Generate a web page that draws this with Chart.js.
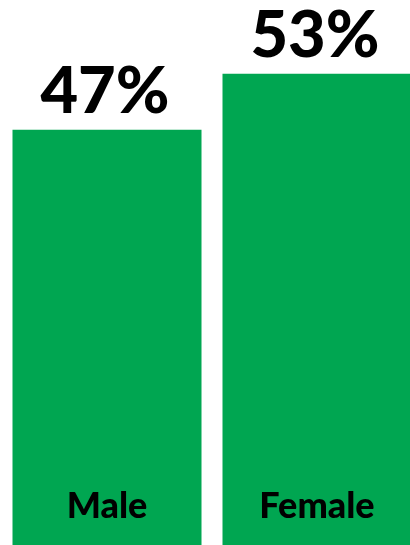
<!DOCTYPE html>
<html>
<head>
<meta charset="utf-8">
<script src="https://cdn.jsdelivr.net/npm/chart.js@4/dist/chart.umd.min.js"></script>
<style>
  html, body { margin: 0; padding: 0; background: #ffffff; overflow: hidden; }
  #wrap { position: relative; width: 410px; height: 545px; overflow: hidden; }
  #box { position: absolute; left: 0; top: 0; width: 422px; height: 568px; }
</style>
</head>
<body>
<div id="wrap"><div id="box"><canvas id="c"></canvas></div></div>
<script>
const categories = ["Male", "Female"];
const values = [47, 53];
const valueLabels = ["47%", "53%"];

const labelPlugin = {
  id: 'barLabels',
  afterDatasetsDraw(chart) {
    const ctx = chart.ctx;
    const meta = chart.getDatasetMeta(0);
    ctx.save();
    ctx.fillStyle = '#000000';
    ctx.textAlign = 'center';
    ctx.textBaseline = 'alphabetic';
    meta.data.forEach((bar, i) => {
      ctx.font = '900 65px Lato';
      ctx.fillText(valueLabels[i], bar.x - 2, bar.y - 17);
      ctx.font = '900 36px Lato';
      ctx.fillText(categories[i], bar.x, 518);
    });
    ctx.restore();
  }
};

new Chart(document.getElementById('c'), {
  type: 'bar',
  data: {
    labels: categories,
    datasets: [{
      data: values,
      backgroundColor: '#00A651',
      borderWidth: 0,
      categoryPercentage: 1.0,
      barPercentage: 0.9
    }]
  },
  options: {
    responsive: true,
    maintainAspectRatio: false,
    animation: false,
    layout: { padding: { left: 2, right: 0, top: 0, bottom: 0 } },
    plugins: { legend: { display: false }, tooltip: { enabled: false } },
    scales: {
      x: { display: false, offset: true },
      y: { display: false, min: 0, max: 60.9 }
    }
  },
  plugins: [labelPlugin]
});
</script>
</body>
</html>
